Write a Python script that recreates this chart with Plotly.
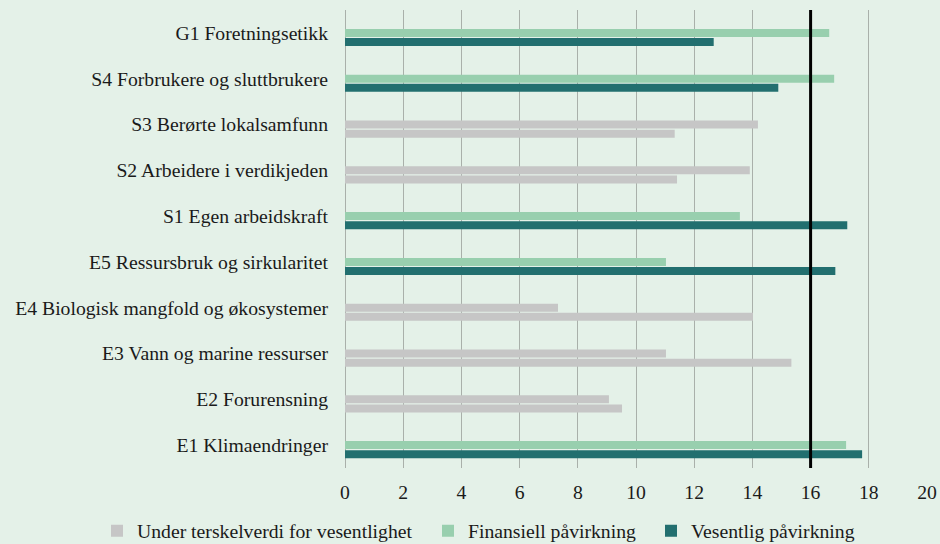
import plotly.graph_objects as go

categories = [
    "G1 Foretningsetikk",
    "S4 Forbrukere og sluttbrukere",
    "S3 Berørte lokalsamfunn",
    "S2 Arbeidere i verdikjeden",
    "S1 Egen arbeidskraft",
    "E5 Ressursbruk og sirkularitet",
    "E4 Biologisk mangfold og økosystemer",
    "E3 Vann og marine ressurser",
    "E2 Forurensning",
    "E1 Klimaendringer",
]
financial = [16.64, 16.81, 14.19, 13.91, 13.57, 11.03, 7.32, 11.03, 9.07, 17.22]
impact = [12.67, 14.89, 11.33, 11.41, 17.26, 16.85, 14.02, 15.34, 9.52, 17.77]
threshold = 16
x_ticks = [0, 2, 4, 6, 8, 10, 12, 14, 16, 18, 20]

names = ["Under terskelverdi for vesentlighet", "Finansiell påvirkning", "Vesentlig påvirkning"]
GREY = "#c6c6c6"
LIGHT = "#98cfae"
DARK = "#226f6f"
BG = "#e4f1e8"
FONT = "Liberation Serif"
FS = 19.7

material = [max(f, v) >= threshold for f, v in zip(financial, impact)]
fin_colors = [LIGHT if m else GREY for m in material]
imp_colors = [DARK if m else GREY for m in material]

slot = 0.2
bw = 0.175

fig = go.Figure()
fig.add_trace(go.Bar(x=[None], y=[categories[0]], orientation="h", name=names[0],
                     marker=dict(color=GREY, line=dict(width=0)), legend="legend"))
fig.add_trace(go.Bar(x=financial, y=categories, orientation="h", name=names[1],
                     marker=dict(color=fin_colors, line=dict(width=0)),
                     width=bw, offset=-bw / 2, legend="legend2"))
fig.add_trace(go.Bar(x=impact, y=categories, orientation="h", name=names[2],
                     marker=dict(color=imp_colors, line=dict(width=0)),
                     width=bw, offset=slot - bw / 2, legend="legend3"))

fig.add_shape(type="line", xref="x", yref="paper", x0=threshold, x1=threshold,
              y0=0, y1=1, line=dict(color="black", width=3), layer="above")

leg_common = dict(orientation="h", xref="container", yref="container",
                  xanchor="left", y=1 - 531 / 544, yanchor="middle",
                  font=dict(family=FONT, size=FS), bgcolor="rgba(0,0,0,0)")

fig.update_layout(
    width=940, height=544,
    barmode="overlay",
    paper_bgcolor=BG, plot_bgcolor=BG,
    margin=dict(l=345, r=13, t=10, b=76, autoexpand=False),
    font=dict(family=FONT, size=FS, color="#1a1a1a"),
    showlegend=True,
    legend=dict(x=97 / 940, **leg_common),
    legend2=dict(x=428 / 940, **leg_common),
    legend3=dict(x=651 / 940, **leg_common),
    xaxis=dict(range=[0, 20], tickvals=x_ticks, showgrid=True,
               gridcolor="#a9b0aa", gridwidth=1.2, zeroline=True,
               zerolinecolor="#a9b0aa", zerolinewidth=1.2,
               showline=False, ticks="", ticklabelstandoff=10,
               tickfont=dict(size=FS)),
    yaxis=dict(type="category", categoryorder="array", categoryarray=categories,
               autorange="reversed", showgrid=False, zeroline=False,
               showline=False, ticks="", ticklabelstandoff=16,
               tickfont=dict(size=FS)),
)

fig.write_html("out.html", config={"displayModeBar": False},
               post_script="document.body.style.margin='0';document.body.style.padding='0';")
